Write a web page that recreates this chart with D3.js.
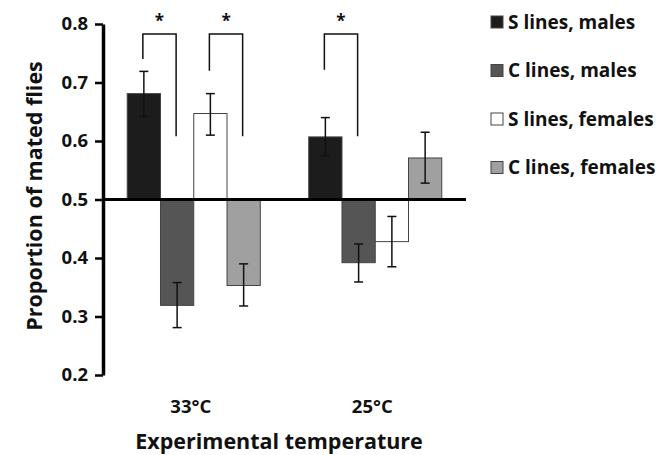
<!DOCTYPE html>
<html>
<head>
<meta charset="utf-8">
<script src="https://cdn.jsdelivr.net/npm/d3@7/dist/d3.min.js"></script>
<style>
body { margin: 0; background: #fff; }
text { font-family: "Open Sans", Lato, sans-serif; font-weight: bold; fill: #111; }
</style>
</head>
<body>
<div id="chart"></div>
<script>
// data
var temps = ["33°C", "25°C"],
    series = ["S lines, males", "C lines, males", "S lines, females", "C lines, females"],
    colors = ["#1c1c1c", "#555555", "#ffffff", "#a0a0a0"],
    means = [[0.681, 0.319, 0.647, 0.353],
             [0.607, 0.392, 0.428, 0.571]],
    errHi = [[0.719, 0.358, 0.681, 0.390],
             [0.640, 0.424, 0.471, 0.615]],
    errLo = [[0.642, 0.281, 0.610, 0.318],
             [0.575, 0.359, 0.385, 0.528]],
    yTicks = [0.2, 0.3, 0.4, 0.5, 0.6, 0.7, 0.8],
    // temp index, first bar, second bar, left foot, right foot
    brackets = [[0, 0, 1, 0.740, 0.608],
                [0, 2, 3, 0.720, 0.608],
                [1, 0, 1, 0.722, 0.608]],
    bracketTop = 0.783,
    baseline = 0.5;

var width = 668,
    height = 455;

var svg = d3.select("#chart")
            .append("svg")
            .attr("width", width)
            .attr("height", height);

var y = d3.scaleLinear()
          .domain([0.2, 0.8])
          .range([375, 24]);

var x0 = d3.scaleBand()
           .domain(temps)
           .range([103, 466])
           .paddingInner(0.267)
           .paddingOuter(0.1335);

var x1 = d3.scaleBand()
           .domain(d3.range(series.length))
           .range([0, x0.bandwidth()]);

//bars
var groups = svg.selectAll("g.grp")
                .data(temps)
                .enter()
                .append("g")
                .attr("class", "grp")
                .attr("transform", function(d) { return "translate(" + x0(d) + ",0)"; });

groups.selectAll("rect")
      .data(function(d, gi) { return means[gi].map(function(v, si) { return {g: gi, s: si, v: v}; }); })
      .enter()
      .append("rect")
      .attr("x", function(d) { return x1(d.s); })
      .attr("width", x1.bandwidth())
      .attr("y", function(d) { return Math.min(y(d.v), y(baseline)); })
      .attr("height", function(d) { return Math.abs(y(d.v) - y(baseline)); })
      .attr("fill", function(d) { return colors[d.s]; })
      .attr("stroke", "#444")
      .attr("stroke-width", 1);

//error bars
var eb = groups.selectAll("g.err")
               .data(function(d, gi) { return means[gi].map(function(v, si) { return {g: gi, s: si}; }); })
               .enter()
               .append("g")
               .attr("class", "err")
               .attr("stroke", "#111")
               .attr("stroke-width", 1.5);

function cx(d) { return x1(d.s) + x1.bandwidth() / 2; }

eb.append("line")
  .attr("x1", cx).attr("x2", cx)
  .attr("y1", function(d) { return y(errHi[d.g][d.s]); })
  .attr("y2", function(d) { return y(errLo[d.g][d.s]); });
eb.append("line")
  .attr("x1", function(d) { return cx(d) - 4.5; }).attr("x2", function(d) { return cx(d) + 4.5; })
  .attr("y1", function(d) { return y(errHi[d.g][d.s]); })
  .attr("y2", function(d) { return y(errHi[d.g][d.s]); });
eb.append("line")
  .attr("x1", function(d) { return cx(d) - 4.5; }).attr("x2", function(d) { return cx(d) + 4.5; })
  .attr("y1", function(d) { return y(errLo[d.g][d.s]); })
  .attr("y2", function(d) { return y(errLo[d.g][d.s]); });

//baseline at 0.5
svg.append("line")
   .attr("x1", x0.range()[0]).attr("x2", x0.range()[1])
   .attr("y1", y(baseline)).attr("y2", y(baseline))
   .attr("stroke", "#000")
   .attr("stroke-width", 3);

//significance brackets
brackets.forEach(function(b) {
  var xa = x0(temps[b[0]]) + x1(b[1]) + x1.bandwidth() / 2 - 1,
      xb = x0(temps[b[0]]) + x1(b[2]) + x1.bandwidth() / 2 - 1;
  svg.append("path")
     .attr("d", "M" + xa + "," + y(b[3]) + "V" + y(bracketTop) + "H" + xb + "V" + y(b[4]))
     .attr("fill", "none")
     .attr("stroke", "#111")
     .attr("stroke-width", 1.5);
  svg.append("text")
     .attr("x", (xa + xb) / 2)
     .attr("y", y(bracketTop) - 6.5)
     .attr("text-anchor", "middle")
     .style("font-size", "17px")
     .text("*");
});

//y axis
var yAxis = d3.axisLeft(y)
              .tickValues(yTicks)
              .tickFormat(d3.format(".1f"))
              .tickSize(8)
              .tickSizeOuter(0)
              .tickPadding(7);

var ga = svg.append("g")
            .attr("transform", "translate(" + x0.range()[0] + ",0)")
            .call(yAxis);
ga.select(".domain").attr("stroke", "#000").attr("stroke-width", 3.5);
ga.selectAll(".tick line").attr("stroke", "#000").attr("stroke-width", 2.5);
ga.selectAll(".tick text")
  .attr("fill", "#111")
  .style("font-size", "18.5px")
  .style("font-family", "'Open Sans', sans-serif")
  .style("font-weight", "bold");

//category labels
svg.selectAll("text.cat")
   .data(temps)
   .enter()
   .append("text")
   .attr("class", "cat")
   .attr("x", function(d) { return x0(d) + x0.bandwidth() / 2 - 3; })
   .attr("y", 413)
   .attr("text-anchor", "middle")
   .style("font-size", "18.5px")
   .text(function(d) { return d; });

//axis titles
svg.append("text")
   .attr("x", 279)
   .attr("y", 449)
   .attr("text-anchor", "middle")
   .style("font-size", "21.5px")
   .text("Experimental temperature");

svg.append("text")
   .attr("transform", "translate(42,196) rotate(-90)")
   .attr("text-anchor", "middle")
   .style("font-size", "21.5px")
   .text("Proportion of mated flies");

//legend
var leg = svg.selectAll("g.leg")
             .data(series)
             .enter()
             .append("g")
             .attr("class", "leg")
             .attr("transform", function(d, i) { return "translate(491," + (16 + i * 48.5) + ")"; });

leg.append("rect")
   .attr("width", 12).attr("height", 12)
   .attr("fill", function(d, i) { return colors[i]; })
   .attr("stroke", "#444")
   .attr("stroke-width", 1);

leg.append("text")
   .attr("x", 17)
   .attr("y", 12.5)
   .style("font-size", "19px")
   .text(function(d) { return d; });
</script>
</body>
</html>
